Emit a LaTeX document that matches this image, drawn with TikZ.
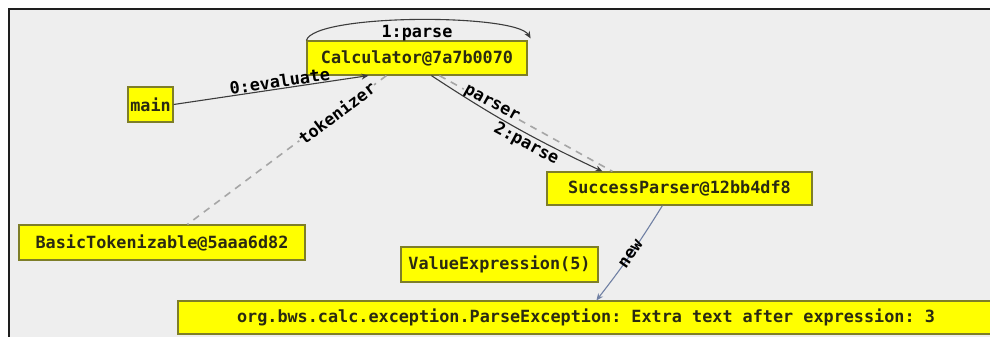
\documentclass[tikz,border=0pt]{standalone}
\usepackage{fontspec}
\setmonofont{DejaVu Sans Mono}
\usetikzlibrary{arrows.meta,calc}

\definecolor{bgpanel}{HTML}{EEEEEE}
\definecolor{objyellow}{HTML}{FFFF00}
\definecolor{boxline}{HTML}{7E7E28}
\definecolor{objtext}{HTML}{2A2A12}
\definecolor{callline}{HTML}{3C3C3C}
\definecolor{refline}{HTML}{A6A6A6}
\definecolor{newline}{HTML}{7080A4}
\definecolor{framecol}{HTML}{1E1E1E}

\newcommand{\objfont}{\ttfamily\bfseries\fontsize{16.8}{20}\selectfont}

\begin{document}
\begin{tikzpicture}[x=1pt,y=-1pt,
  objbox/.style={draw=boxline, fill=objyellow, line width=1.2pt, inner sep=0pt,
                 font=\objfont, text=objtext},
  lbl/.style={font=\objfont, text=black, inner sep=1pt},
  call/.style={draw=callline, line width=1.1pt, -{Stealth[length=7pt,width=6pt]}},
  ref/.style={draw=refline, line width=1.6pt, dash pattern=on 7pt off 6pt},
  newarr/.style={draw=newline, line width=1.1pt, -{Stealth[length=7pt,width=6pt]}},
  frameline/.style={draw=framecol, line width=2pt}]

\useasboundingbox (0,0) rectangle (990,337);

% panel and its frame
\fill[white] (0,0) rectangle (990,337);
\fill[bgpanel] (9,9) rectangle (990,337);
\draw[frameline] (9,337) -- (9,9) -- (990,9);

% objects
\node[objbox, minimum width=220, minimum height=34] (calc) at (417,58) {Calculator@7a7b0070};
\node[objbox, minimum width=45,  minimum height=35] (main) at (150.5,104.5) {main};
\node[objbox, minimum width=286, minimum height=35] (tok)  at (162,242.5) {BasicTokenizable@5aaa6d82};
\node[objbox, minimum width=265, minimum height=33] (succ) at (679.5,188.5) {SuccessParser@12bb4df8};
\node[objbox, minimum width=197, minimum height=35] (val)  at (499.5,264.5) {ValueExpression(5)};
\node[objbox, minimum width=816, minimum height=33] (exc)  at (586,317.5)
  {org.bws.calc.exception.ParseException: Extra text after expression: 3};

% references held by the calculator
\draw[ref] ($(calc.south west)+(80,0)$) --
  node[lbl, sloped, pos=0.25, fill=bgpanel] (ltok) {tokenizer}
  ($(tok.north west)+(169,0)$);
\draw[ref] ($(calc.south west)+(133,0)$) --
  node[lbl, sloped, pos=0.3, fill=bgpanel] (lpar) {parser}
  ($(succ.north west)+(66,0)$);

% calls
\draw[call] (main.east) --
  node[lbl, sloped, above, pos=0.55, inner sep=0.5pt] (l0) {0:evaluate}
  ($(calc.south west)+(62,0)$);
\draw[call] (calc.north west)
  .. controls ($(calc.north west)+(8,-27)$) and ($(calc.north east)+(-12,-27)$)
  .. ($(calc.north east)+(3,-2)$);
\node[lbl, anchor=base] (l1) at ($(calc.north)+(0,-3)$) {1:parse};
\draw[call] ($(calc.south west)+(125,0)$) to[bend right=4]
  node[lbl, sloped, below, pos=0.6] (l2) {2:parse}
  ($(succ.north west)+(56,0)$);

% object creation
\draw[newarr] ($(succ.south west)+(116,0)$) to[bend left=3]
  node[lbl, sloped, pos=0.5] (lnew) {new}
  ($(exc.north west)+(419,0)$);
\end{tikzpicture}
\end{document}
